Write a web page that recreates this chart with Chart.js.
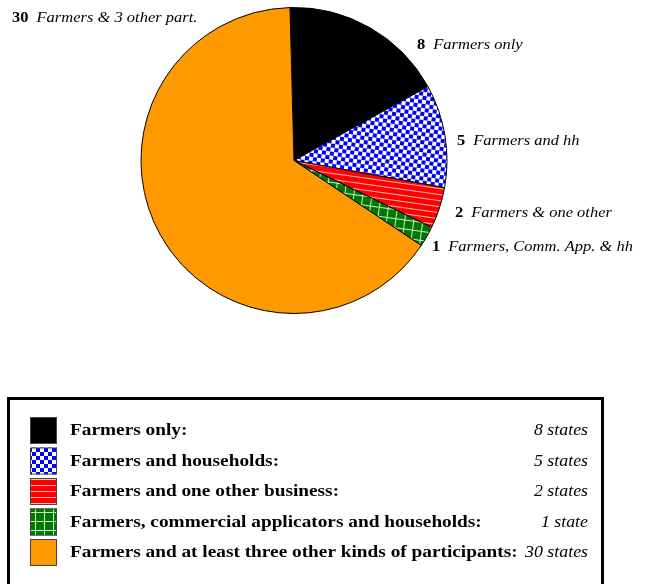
<!doctype html>
<html lang="en">
  <head>
    <meta charset="utf-8">
    <title>Participants pie</title>
    <style>
      * { margin: 0; padding: 0; }
      body { background: #fff; width: 646px; height: 584px; overflow: hidden; }
    </style>
  </head>
  <body>
    <canvas id="myChart" width="646" height="584"></canvas>
    <script src="https://cdn.jsdelivr.net/npm/chart.js"></script>
    <script>
    // data
    const categories = [
      'Farmers only:',
      'Farmers and households:',
      'Farmers and one other business:',
      'Farmers, commercial applicators and households:',
      'Farmers and at least three other kinds of participants:'
    ];
    const states = [8, 5, 2, 1, 30];
    const shortLabels = [
      'Farmers only',
      'Farmers and hh',
      'Farmers & one other',
      'Farmers, Comm. App. & hh',
      'Farmers & 3 other part.'
    ];
    const stateLabels = ['8 states', '5 states', '2 states', '1 state', '30 states'];

    // fill patterns
    function makePattern(kind, rot) {
      const c = document.createElement('canvas');
      const ctx = c.getContext('2d');
      if (kind === 'check') {
        c.width = 8; c.height = 8;
        ctx.fillStyle = '#0000ff'; ctx.fillRect(0, 0, 8, 8);
        ctx.fillStyle = '#ffffff';
        ctx.fillRect(0, 0, 4, 4); ctx.fillRect(4, 4, 4, 4);
      } else if (kind === 'hstripe') {
        c.width = 6; c.height = 6;
        ctx.fillStyle = '#ff0000'; ctx.fillRect(0, 0, 6, 6);
        ctx.fillStyle = '#ffb8b8'; ctx.fillRect(0, 5, 6, 1);
      } else if (kind === 'grid') {
        c.width = 9; c.height = 9;
        ctx.fillStyle = '#007700'; ctx.fillRect(0, 0, 9, 9);
        ctx.fillStyle = '#c8f0c8';
        ctx.fillRect(0, 8, 9, 1); ctx.fillRect(8, 0, 1, 9);
      } else {
        c.width = 4; c.height = 4;
        ctx.fillStyle = kind; ctx.fillRect(0, 0, 4, 4);
      }
      const p = ctx.createPattern(c, 'repeat');
      if (rot) p.setTransform(new DOMMatrix().rotateSelf(rot));
      return p;
    }
    const fillKinds = ['#000000', 'check', 'hstripe', 'grid', '#ff9900'];
    const pieFills = fillKinds.map(k => makePattern(k, 8));
    const swatchFills = fillKinds.map(k => makePattern(k, 0));

    // text drawn a little wider than the font, like the original
    function wideText(ctx, txt, x, y, sx) {
      ctx.save();
      ctx.translate(x, y);
      ctx.scale(sx, 1);
      ctx.fillText(txt, 0, 0);
      const w = ctx.measureText(txt).width * sx;
      ctx.restore();
      return w;
    }

    // outside labels, one per slice: bold count + italic name
    const sliceLabels = {
      id: 'sliceLabels',
      afterDatasetsDraw(chart, args, opts) {
        const ctx = chart.ctx;
        ctx.save();
        ctx.textBaseline = 'middle';
        ctx.fillStyle = '#000';
        opts.at.forEach((pos, i) => {
          ctx.font = 'bold 15px "Liberation Serif"';
          const w = wideText(ctx, String(states[i]), pos[0], pos[1], 1.1);
          ctx.font = 'italic 15px "Liberation Serif"';
          wideText(ctx, shortLabels[i], pos[0] + w + 8, pos[1], 1.1);
        });
        ctx.restore();
      }
    };

    // boxed legend under the pie
    const boxLegend = {
      id: 'boxLegend',
      afterDraw(chart) {
        const ctx = chart.ctx;
        ctx.save();
        ctx.lineWidth = 3;
        ctx.strokeStyle = '#000';
        ctx.strokeRect(8.5, 398.5, 594, 200);
        ctx.textBaseline = 'middle';
        categories.forEach((cat, i) => {
          const y = 417 + i * 30.5;
          ctx.fillStyle = swatchFills[i];
          ctx.fillRect(30, y, 27, 27);
          ctx.lineWidth = 1;
          ctx.strokeStyle = '#444';
          ctx.strokeRect(30.5, y + 0.5, 26, 26);
          ctx.fillStyle = '#000';
          ctx.font = 'bold 17px "Liberation Serif"';
          ctx.textAlign = 'left';
          wideText(ctx, cat, 70, y + 14, 1.135);
          ctx.font = 'italic 17px "Liberation Serif"';
          ctx.textAlign = 'right';
          wideText(ctx, stateLabels[i], 588, y + 14, 1.05);
        });
        ctx.restore();
      }
    };

    const data = {
      labels: categories,
      datasets: [{
        data: states,
        backgroundColor: pieFills,
        borderColor: '#000',
        borderWidth: 1
      }]
    };

    const config = {
      type: 'pie',
      data,
      options: {
        responsive: false,
        animation: false,
        rotation: -1.5,
        layout: { padding: { left: 140, right: 198, top: 7, bottom: 270 } },
        plugins: {
          legend: { display: false },
          tooltip: { enabled: false },
          sliceLabels: {
            at: [[417, 45], [457, 141], [455, 213], [432, 247], [12, 18]]
          }
        }
      },
      plugins: [sliceLabels, boxLegend]
    };

    const myChart = new Chart(document.getElementById('myChart'), config);
    </script>
  </body>
</html>
